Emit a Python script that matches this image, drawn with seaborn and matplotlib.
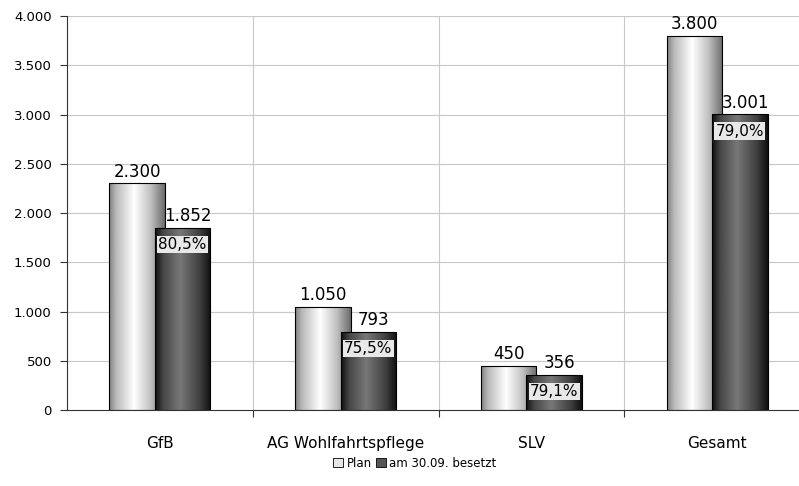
import numpy as np
import pandas as pd
import matplotlib
matplotlib.use("Agg")
import matplotlib.pyplot as plt
from matplotlib.patches import Patch
import seaborn as sns

# Daten
kategorien = ["GfB", "AG Wohlfahrtspflege", "SLV", "Gesamt"]
plan = [2300, 1050, 450, 3800]
besetzt = [1852, 793, 356, 3001]
serien = ["Plan", "am 30.09. besetzt"]
y_ticks = [0, 500, 1000, 1500, 2000, 2500, 3000, 3500, 4000]

sns.set_style("white")
plt.rcParams["font.family"] = ["DejaVu Sans"]
plt.rcParams["text.color"] = "black"
plt.rcParams["xtick.color"] = "black"
plt.rcParams["ytick.color"] = "black"


def tausender(v):
    return f"{v:,}".replace(",", ".")


df = pd.DataFrame({
    "Kategorie": kategorien * 2,
    "Anzahl": plan + besetzt,
    "Serie": [serien[0]] * 4 + [serien[1]] * 4,
})

fig = plt.figure(figsize=(7.99, 4.86), dpi=100)
ax = fig.add_axes([67 / 799, 76 / 486, 743 / 799, 394 / 486])

sns.barplot(data=df, x="Kategorie", y="Anzahl", hue="Serie", width=0.49,
            palette=["#dddddd", "#444444"], legend=False, ax=ax,
            edgecolor="black", linewidth=0.8)

# Balken etwas breiter, so dass sie sich ueberlappen (wie Excel)
breite = 0.30
n = len(kategorien)
xs = np.linspace(0, 1, 200)
verlauf = [np.interp(xs, [0, 0.12, 0.45, 0.75, 1], [0.5, 0.72, 1.0, 0.75, 0.42]),
           np.interp(xs, [0, 0.15, 0.45, 0.8, 1], [0.06, 0.28, 0.47, 0.25, 0.06])]

for i, p in enumerate(ax.patches[:2 * n]):
    s = i // n
    mitte = p.get_x() + p.get_width() / 2
    p.set_x(mitte - breite / 2)
    p.set_width(breite)
    p.set_facecolor("none")
    p.set_zorder(2.1 + s)
    h = p.get_height()
    im = ax.imshow(verlauf[s][np.newaxis, :], extent=[mitte - breite / 2, mitte + breite / 2, 0, h],
                   aspect="auto", cmap="gray", vmin=0, vmax=1, zorder=2.0 + s,
                   interpolation="bilinear")
    im.set_clip_path(p)
    if s == 0:
        ax.annotate(tausender(plan[i % n]), (mitte, h), xytext=(0, 2), textcoords="offset points",
                    ha="center", va="bottom", fontsize=12, zorder=6)
    else:
        ax.annotate(tausender(besetzt[i % n]), (mitte, h), xytext=(4, 2), textcoords="offset points",
                    ha="center", va="bottom", fontsize=12, zorder=6)
        quote = besetzt[i % n] / plan[i % n] * 100
        ax.annotate(f"{quote:.1f}%".replace(".", ","), (mitte, h), xytext=(0, -12),
                    textcoords="offset points", ha="center", va="center", fontsize=11, zorder=6,
                    bbox=dict(boxstyle="square,pad=0.08", facecolor="#e8e8e8", edgecolor="none"))

ax.set_xlim(-0.5, n - 0.5)
ax.set_ylim(0, 4000)
ax.set_aspect("auto")
ax.set_xlabel("")
ax.set_ylabel("")

ax.set_yticks(y_ticks)
ax.set_yticklabels([tausender(v) for v in y_ticks], fontsize=9.5)
ax.set_xticks(range(n))
ax.set_xticklabels(kategorien, fontsize=11)
ax.set_xticks([k + 0.5 for k in range(n - 1)], minor=True)
ax.tick_params(axis="x", which="major", bottom=True, length=0, pad=19)
ax.tick_params(axis="x", which="minor", bottom=True, length=5, width=0.8, color="#333333", direction="out")
ax.tick_params(axis="y", left=True, length=5, width=0.8, color="#333333", direction="out", pad=6)

for y in y_ticks[1:]:
    ax.axhline(y, color="#c8c8c8", linewidth=0.8, zorder=0)
for x in [k + 0.5 for k in range(n - 1)]:
    ax.axvline(x, color="#c8c8c8", linewidth=0.8, zorder=0)

sns.despine(ax=ax, top=True, right=True)
ax.spines["left"].set_color("#333333")
ax.spines["bottom"].set_color("#333333")
ax.spines["left"].set_linewidth(0.8)
ax.spines["bottom"].set_linewidth(0.8)

griffe = [Patch(facecolor="#e6e6e6", edgecolor="black", linewidth=0.6),
          Patch(facecolor="#555555", edgecolor="black", linewidth=0.6)]
fig.legend(griffe, serien, loc="center", bbox_to_anchor=(415 / 799, 1 - 463 / 486), ncol=2,
           frameon=False, fontsize=8.5, handlelength=0.8, handleheight=0.8,
           handletextpad=0.3, columnspacing=0.4)

fig.savefig("out.png", dpi=100)
